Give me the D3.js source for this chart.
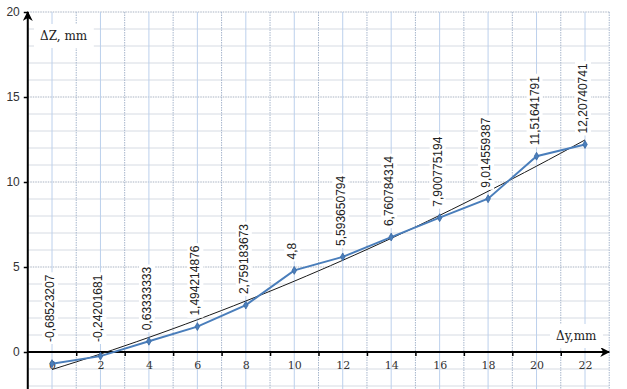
<!DOCTYPE html>
<html>
<head>
<meta charset="utf-8">
<script src="https://cdn.jsdelivr.net/npm/d3@7"></script>
<style>
  body { margin: 0; background: #fff; }
  svg { display: block; }
</style>
</head>
<body>
<script>
const dyValues = [0, 2, 4, 6, 8, 10, 12, 14, 16, 18, 20, 22]
const dzValues = [-0.68523207, -0.24201681, 0.63333333, 1.494214876, 2.759183673, 4.8,
  5.593650794, 6.760784314, 7.900775194, 9.014559387, 11.51641791, 12.20740741]
const xTickLabels = [0, 2, 4, 6, 8, 10, 12, 14, 16, 18, 20, 22]
const xTickMarks = [1, 3, 5, 7, 9, 11, 13, 15, 17, 19, 21]
const yTickLabels = [0, 5, 10, 15, 20]

const width = 627, height = 389

const x = d3.scaleLinear().domain([0, 22]).range([52, 585])
const y = d3.scaleLinear().domain([0, 20]).range([352, 12])
const xMin = -1, xMax = 23, yMin = y.invert(height), yMax = 20

const svg = d3.select("body").append("svg")
  .attr("width", width)
  .attr("height", height)

svg.append("defs").append("marker")
  .attr("id", "arrow")
  .attr("viewBox", "0 0 10 10")
  .attr("refX", 9).attr("refY", 5)
  .attr("markerWidth", 5).attr("markerHeight", 5)
  .attr("orient", "auto")
  .append("path")
  .attr("d", "M0,0 L10,5 L0,10 L3,5 z")
  .attr("fill", "#000")

// graph paper grid
const grid = svg.append("g").attr("class", "grid")
const gx = d3.range(Math.ceil(xMin), xMax + 1)
const gy = d3.range(Math.ceil(yMin), yMax + 1)

grid.selectAll(".gy").data(gy).enter().append("line")
  .attr("x1", x(xMin)).attr("x2", x(xMax))
  .attr("y1", d => y(d)).attr("y2", d => y(d))
  .attr("stroke", d => d % 5 == 0 ? "#a9b3c2" : "#d6dbe3")
  .attr("stroke-dasharray", d => d % 5 == 0 ? "1.5,1" : null)
  .attr("stroke-width", 1)

grid.selectAll(".gx").data(gx).enter().append("line")
  .attr("x1", d => x(d)).attr("x2", d => x(d))
  .attr("y1", y(yMax)).attr("y2", height)
  .attr("stroke", d => Math.abs(d % 2) == 1 ? "#a7b6cc" : "#bcd0ec")
  .attr("stroke-dasharray", d => Math.abs(d % 2) == 1 ? "1.5,1" : null)
  .attr("stroke-width", 1)

// axes
const xAxis = svg.append("g")
  .attr("transform", `translate(0,${y(0)})`)
xAxis.call(d3.axisBottom(x).tickValues(xTickMarks).tickSize(4).tickFormat(""))
  .call(g => g.select(".domain").remove())
  .call(g => g.selectAll(".tick line").attr("stroke", "#000").attr("stroke-width", 1.5))

svg.append("g")
  .attr("transform", `translate(0,${y(0)})`)
  .call(d3.axisBottom(x).tickValues(xTickLabels).tickSize(0).tickPadding(9))
  .call(g => g.select(".domain").remove())
  .call(g => g.selectAll("text")
    .attr("font-family", "'DejaVu Serif', 'Liberation Serif', serif")
    .attr("font-size", 11)
    .attr("fill", "#333"))

svg.append("line")
  .attr("x1", x(xMin)).attr("x2", x(xMax))
  .attr("y1", y(0)).attr("y2", y(0))
  .attr("stroke", "#000").attr("stroke-width", 2)
  .attr("marker-end", "url(#arrow)")

svg.append("g")
  .attr("transform", `translate(${x(xMin)},0)`)
  .call(d3.axisLeft(y).tickValues(yTickLabels).tickSize(4).tickPadding(4))
  .call(g => g.select(".domain").remove())
  .call(g => g.selectAll(".tick line").attr("stroke", "#000").attr("stroke-width", 1.5))
  .call(g => g.selectAll("text")
    .attr("font-family", "'Liberation Sans', Arial, sans-serif")
    .attr("font-size", 12)
    .attr("fill", "#333"))

svg.append("line")
  .attr("x1", x(xMin)).attr("x2", x(xMin))
  .attr("y1", height).attr("y2", y(yMax))
  .attr("stroke", "#000").attr("stroke-width", 2)
  .attr("marker-end", "url(#arrow)")

// axis titles with white boxes
function boxedText(tx, ty, str, font, size) {
  const g = svg.append("g")
  const t = g.append("text")
    .attr("x", tx).attr("y", ty)
    .attr("font-family", font)
    .attr("font-size", size)
    .attr("dominant-baseline", "central")
    .attr("fill", "#222")
    .text(str)
  const b = t.node().getBBox()
  g.insert("rect", "text")
    .attr("x", b.x - 6).attr("y", b.y - 5)
    .attr("width", b.width + 12).attr("height", b.height + 10)
    .attr("fill", "#fff")
  return g
}
boxedText(40, 36, "ΔZ, mm", "'DejaVu Serif', 'Liberation Serif', serif", 12)
boxedText(556, 336, "Δy,mm", "'DejaVu Serif', 'Liberation Serif', serif", 12)

// polynomial (order 2) trendline, least squares fit of the data
function polyFit(xs, ys) {
  const S = k => d3.sum(xs, v => Math.pow(v, k))
  const T = k => d3.sum(xs, (v, i) => Math.pow(v, k) * ys[i])
  const A = [[S(0), S(1), S(2)], [S(1), S(2), S(3)], [S(2), S(3), S(4)]]
  const B = [T(0), T(1), T(2)]
  // gaussian elimination
  for (let i = 0; i < 3; i++) {
    for (let j = i + 1; j < 3; j++) {
      const f = A[j][i] / A[i][i]
      for (let k = i; k < 3; k++) A[j][k] -= f * A[i][k]
      B[j] -= f * B[i]
    }
  }
  const c = [0, 0, 0]
  for (let i = 2; i >= 0; i--) {
    let s = B[i]
    for (let k = i + 1; k < 3; k++) s -= A[i][k] * c[k]
    c[i] = s / A[i][i]
  }
  return v => c[0] + c[1] * v + c[2] * v * v
}
const trend = polyFit(dyValues, dzValues)
const trendX = d3.ticks(0, 22, 60)

svg.append("path")
  .datum(trendX)
  .attr("fill", "none")
  .attr("stroke", "#1a1a1a")
  .attr("stroke-width", 1)
  .attr("d", d3.line().x(d => x(d)).y(d => y(trend(d))))

// data series
const data = dyValues.map((d, i) => ({ dy: d, dz: dzValues[i] }))

svg.append("path")
  .datum(data)
  .attr("fill", "none")
  .attr("stroke", "#4a7ebb")
  .attr("stroke-width", 2)
  .attr("d", d3.line().x(d => x(d.dy)).y(d => y(d.dz)))

svg.selectAll(".marker").data(data).enter().append("path")
  .attr("transform", d => `translate(${x(d.dy)},${y(d.dz)})`)
  .attr("d", d3.symbol(d3.symbolDiamond, 18))
  .attr("fill", "#4a7ebb")
  .attr("stroke", "#3b6aa3")
  .attr("stroke-width", 0.8)

// rotated data labels with white background
const labels = svg.selectAll(".label").data(data).enter().append("g")
  .attr("class", "label")
  .attr("transform", d => `translate(${x(d.dy) - 2},${Math.min(y(d.dz) - 11, y(0) - 10)}) rotate(-90)`)

labels.append("text")
  .attr("x", 0).attr("y", 0)
  .attr("dominant-baseline", "central")
  .attr("font-family", "'Liberation Sans', Arial, sans-serif")
  .attr("font-size", 12)
  .attr("fill", "#222")
  .text(d => String(d.dz).replace(".", ","))

labels.each(function() {
  const g = d3.select(this)
  const b = g.select("text").node().getBBox()
  g.insert("rect", "text")
    .attr("x", b.x - 2).attr("y", b.y - 1)
    .attr("width", b.width + 4).attr("height", b.height + 2)
    .attr("fill", "#fff")
})
</script>
</body>
</html>
